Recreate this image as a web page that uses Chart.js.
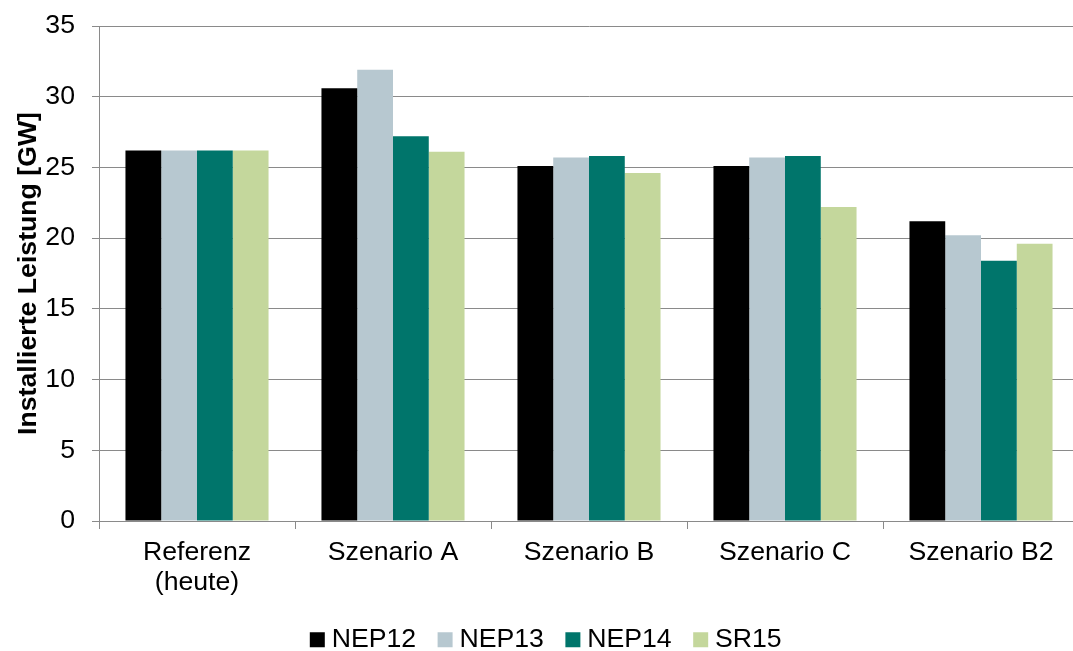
<!DOCTYPE html>
<html lang="de">
<head>
<meta charset="utf-8">
<title>Installierte Leistung</title>
<script src="https://cdn.jsdelivr.net/npm/chart.js@4.4.1/dist/chart.umd.min.js"></script>
<style>
  html, body { margin: 0; padding: 0; overflow: hidden; background: #ffffff; }
  #wrap { width: 1079px; height: 663px; }
</style>
</head>
<body>
<div id="wrap"><canvas id="chart" width="1079" height="663"></canvas></div>
<script>
// Categories (x axis)
const categories = [['Referenz', '(heute)'], 'Szenario A', 'Szenario B', 'Szenario C', 'Szenario B2'];

// Installed capacity in GW per study
const nep12 = [26.2, 30.6, 25.1, 25.1, 21.2];
const nep13 = [26.2, 31.9, 25.7, 25.7, 20.2];
const nep14 = [26.2, 27.2, 25.8, 25.8, 18.4];
const sr15  = [26.2, 26.1, 24.6, 22.2, 19.6];

const seriesNames = ['NEP12', 'NEP13', 'NEP14', 'SR15'];
const seriesColors = ['#000000', '#b7c8d0', '#00756b', '#c4d79c'];

// Y axis range
const yMin = 0;
const yMax = 35;
const yStep = 5;

const axisTitle = 'Installierte Leistung [GW]';

const fontSize = 26.67; // 20pt
Chart.defaults.font.family = '"Liberation Sans", Arial, sans-serif';
Chart.defaults.color = '#000000';

const gridColor = '#8a8a8a';

const seriesData = [nep12, nep13, nep14, sr15];

new Chart(document.getElementById('chart'), {
  type: 'bar',
  data: {
    labels: categories,
    datasets: seriesNames.map((name, i) => ({
      label: name,
      data: seriesData[i],
      backgroundColor: seriesColors[i],
      borderWidth: 0,
      categoryPercentage: 0.73,
      barPercentage: 1.0
    }))
  },
  options: {
    responsive: false,
    animation: false,
    devicePixelRatio: 1,
    layout: { padding: { top: 26, left: 19, right: 0, bottom: 0 } },
    plugins: {
      tooltip: { enabled: false },
      legend: {
        position: 'bottom',
        align: 'center',
        labels: {
          usePointStyle: true,
          pointStyle: 'rect',
          boxWidth: 2,
          boxHeight: 15,
          padding: 28,
          color: '#000000',
          font: { size: fontSize }
        }
      }
    },
    scales: {
      x: {
        afterFit: (scale) => { scale.height = 77.33; },
        grid: {
          offset: true,
          drawOnChartArea: false,
          drawTicks: true,
          tickLength: 8,
          color: gridColor,
          lineWidth: 1
        },
        border: { display: true, color: gridColor, width: 1 },
        ticks: {
          padding: 8.5,
          color: '#000000',
          font: { size: fontSize, lineHeight: 1.125 },
          maxRotation: 0,
          autoSkip: false
        }
      },
      y: {
        min: yMin,
        max: yMax,
        afterFit: (scale) => {
          scale.width = 80;
          // the top label fits inside the layout padding above the plot
          scale.paddingTop = 0;
        },
        grid: {
          drawTicks: true,
          tickLength: 7,
          color: gridColor,
          lineWidth: 1
        },
        border: { display: true, color: gridColor, width: 1 },
        ticks: {
          stepSize: yStep,
          padding: 17,
          color: '#000000',
          font: { size: fontSize }
        },
        title: {
          display: true,
          text: axisTitle,
          color: '#000000',
          font: { size: fontSize, weight: 'bold', lineHeight: 0.72 },
          padding: { top: 0, bottom: 0 }
        }
      }
    }
  }
});
</script>
</body>
</html>
